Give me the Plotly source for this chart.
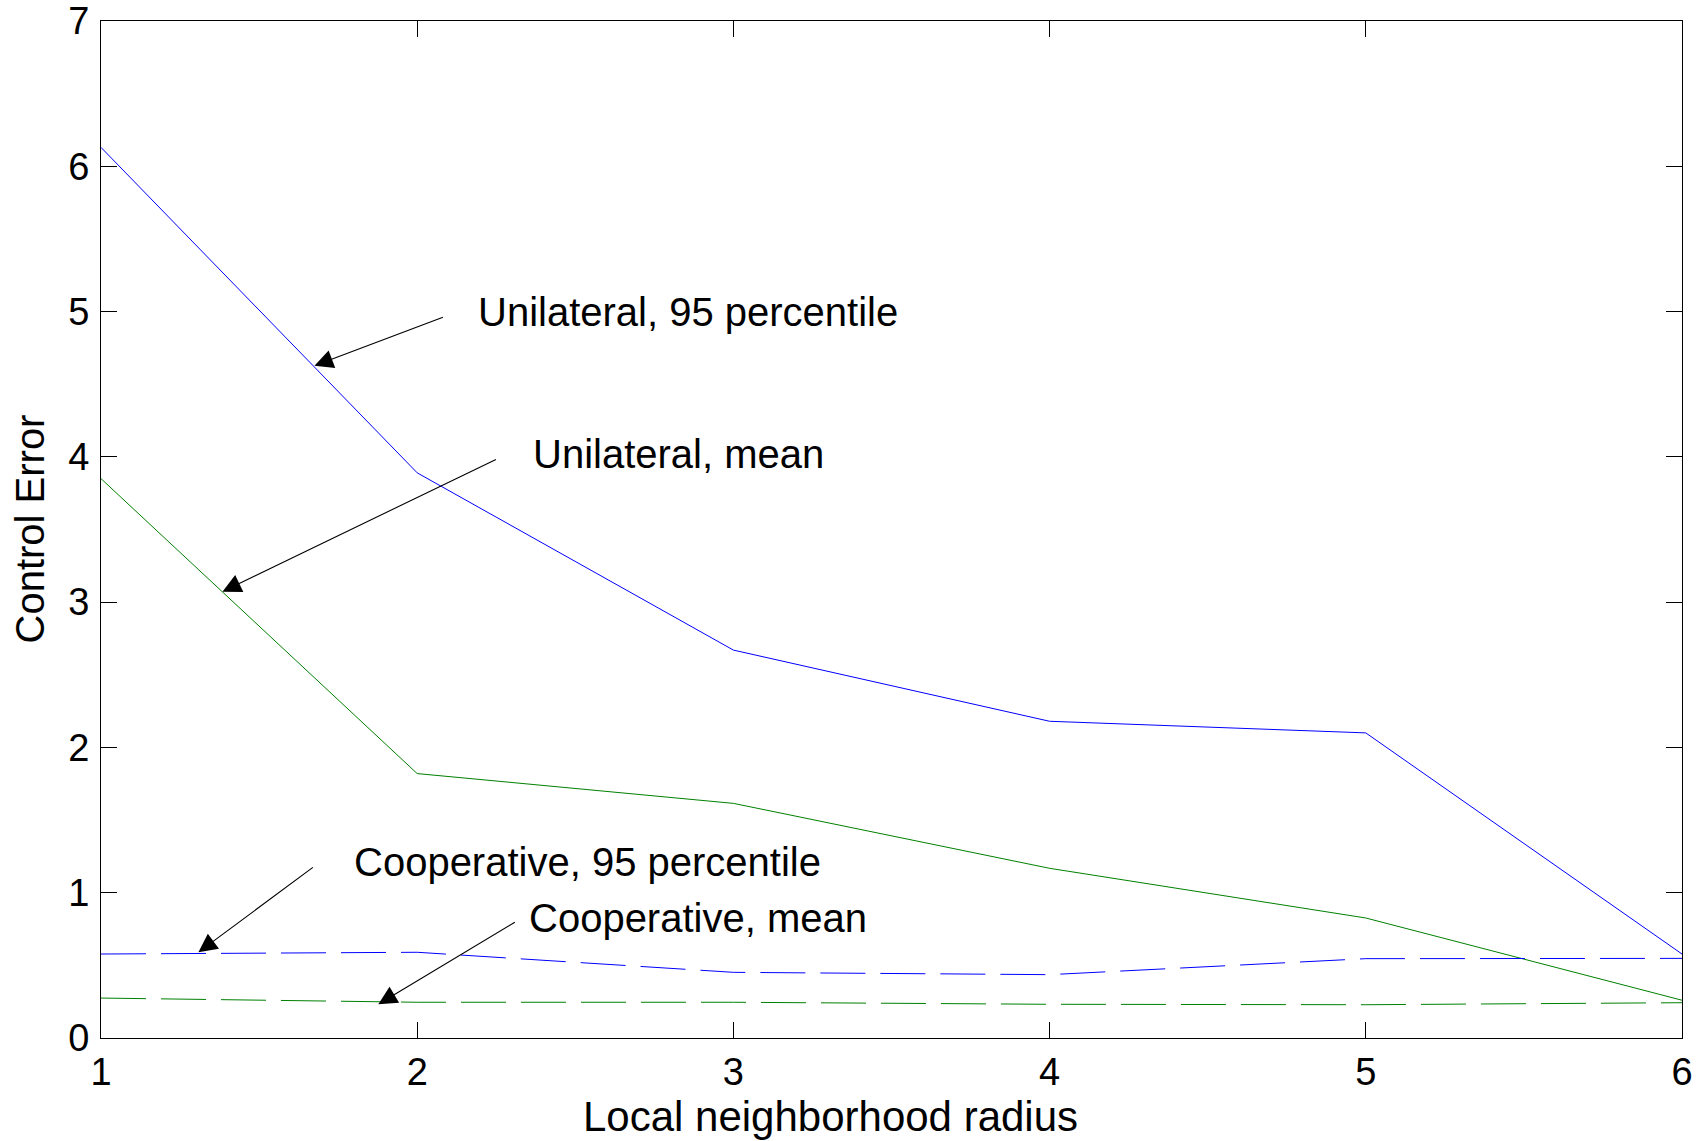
import plotly.graph_objects as go

radius = [1, 2, 3, 4, 5, 6]
uni_p95 = [6.13, 3.89, 2.67, 2.18, 2.10, 0.578]
uni_mean = [3.85, 1.82, 1.615, 1.168, 0.826, 0.26]
coop_p95 = [0.578, 0.59, 0.452, 0.436, 0.546, 0.548]
coop_mean = [0.275, 0.246, 0.246, 0.232, 0.229, 0.243]

BLUE = "rgb(0,0,255)"
GREEN = "rgb(0,128,0)"
FONT = "Liberation Sans, Arial, sans-serif"
FS = 40

fig = go.Figure()
fig.add_trace(go.Scatter(x=radius, y=uni_p95, mode="lines", line=dict(color=BLUE, width=1)))
fig.add_trace(go.Scatter(x=radius, y=uni_mean, mode="lines", line=dict(color=GREEN, width=1)))
fig.add_trace(go.Scatter(x=radius, y=coop_p95, mode="lines", line=dict(color=BLUE, width=1, dash="45px,15px")))
fig.add_trace(go.Scatter(x=radius, y=coop_mean, mode="lines", line=dict(color=GREEN, width=1, dash="45px,15px")))

# (label, head_x, head_y, tail_dx_px, tail_dy_px, text_x, text_y)
labels = [
    ("Unilateral, 95 percentile", 1.675, 4.627, 130, -49, 2.186, 4.999),
    ("Unilateral, mean", 1.384, 3.072, 275, -133, 2.359, 4.019),
    ("Cooperative, 95 percentile", 1.308, 0.59, 116, -86, 1.794, 1.211),
    ("Cooperative, mean", 1.877, 0.232, 138, -83, 2.346, 0.829),
]
for txt, hx, hy, dx, dy, tx, ty in labels:
    fig.add_annotation(x=hx, y=hy, ax=dx, ay=dy, text="", showarrow=True,
                       arrowhead=2, arrowsize=3.4, arrowwidth=1.1, arrowcolor="black")
    fig.add_annotation(x=tx, y=ty, text=txt, showarrow=False, xanchor="left", yanchor="middle",
                       font=dict(family=FONT, size=FS, color="black"))

axis_common = dict(showgrid=False, zeroline=False, showline=True, linecolor="black", linewidth=1,
                   mirror="ticks", ticks="inside", ticklen=16, tickwidth=1, tickcolor="black",
                   tickfont=dict(family=FONT, size=38, color="black"), dtick=1, automargin=False,
                   ticklabeloverflow="allow")

fig.update_xaxes(range=[1, 6], tick0=1, **axis_common)
fig.update_yaxes(range=[0, 7], tick0=0, ticklabelstandoff=3, **axis_common)

fig.add_annotation(x=3.306, y=0, xref="x", yref="paper", yshift=-78, text="Local neighborhood radius",
                   showarrow=False, xanchor="center", yanchor="middle",
                   font=dict(family=FONT, size=42, color="black"))
fig.add_annotation(x=0, xref="paper", xshift=-72, y=0.5, yref="paper", text="Control Error",
                   showarrow=False, textangle=-90, xanchor="center", yanchor="middle",
                   font=dict(family=FONT, size=FS, color="black"))

fig.update_layout(width=1704, height=1141, showlegend=False,
                  paper_bgcolor="white", plot_bgcolor="white",
                  margin=dict(l=101, r=22, t=21, b=103, autoexpand=False),
                  font=dict(family=FONT, color="black"))

fig.write_html("out.html", config={"displayModeBar": False},
               post_script="document.body.style.margin='0';")
